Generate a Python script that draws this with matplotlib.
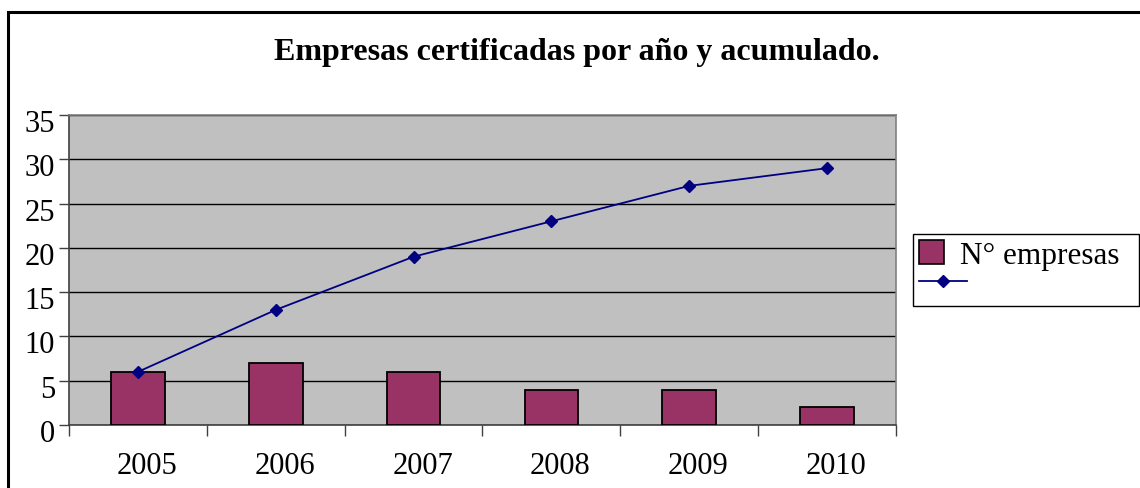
import matplotlib.pyplot as plt
from matplotlib.patches import Rectangle, Patch
from matplotlib.lines import Line2D
from matplotlib.legend_handler import HandlerLine2D
from matplotlib.transforms import ScaledTranslation
import numpy as np

# --------------------------------------------------------------------
# Data
# --------------------------------------------------------------------
years = ['2005', '2006', '2007', '2008', '2009', '2010']
empresas = [6, 7, 6, 4, 4, 2]
acumulado = [6, 13, 19, 23, 27, 29]

plt.rcParams['font.family'] = ['Liberation Serif', 'DejaVu Serif']


class LongLineHandler(HandlerLine2D):
    # legend line sample drawn longer than the bar square
    def create_artists(self, legend, orig_handle, xdescent, ydescent,
                       width, height, fontsize, trans):
        return super().create_artists(legend, orig_handle, xdescent, ydescent,
                                      width * 1.9, height, fontsize, trans)


fig = plt.figure(figsize=(11.40, 4.89), dpi=100)

# outer frame of the chart object
fig.patches.append(Rectangle((8/1140, -0.05), 1.2, 1 - 13/489 + 0.05,
                             transform=fig.transFigure, fill=False,
                             edgecolor='black', linewidth=2.2))

ax = fig.add_axes([69/1140, 1 - 426/489, (896 - 69)/1140, (426 - 116)/489])
ax.set_facecolor('#c0c0c0')

x = np.arange(len(years))
ax.bar(x, empresas, width=0.39, color='#993366', edgecolor='black',
       linewidth=1.3, zorder=3)
ax.plot(x, acumulado, '-', color='#000080', linewidth=1.3, marker='D',
        markersize=6, zorder=4)

# --------------------------------------------------------------------
# Axes
# --------------------------------------------------------------------
ax.set_xlim(-0.5, len(years) - 0.5)
ax.set_ylim(0, 35)
ax.set_yticks(range(0, 36, 5))
ax.yaxis.grid(True, color='black', linewidth=1.0, zorder=1)
ax.set_axisbelow(True)
ax.tick_params(axis='y', direction='out', length=7, width=1, labelsize=22,
               pad=3, color='#404040')
ax.set_xticks(np.arange(-0.5, len(years), 1.0))
ax.set_xticklabels([])
ax.set_xticks(x, minor=True)
ax.set_xticklabels(years, minor=True, fontsize=22)
ax.tick_params(axis='x', which='major', direction='out', length=8, width=1,
               color='#404040')
ax.tick_params(axis='x', which='minor', length=0, pad=19)

# small label offsets as in the original rendering
for lab in ax.get_yticklabels():
    lab.set_transform(lab.get_transform() + ScaledTranslation(0, -5/100, fig.dpi_scale_trans))
for lab in ax.get_xticklabels(minor=True):
    lab.set_transform(lab.get_transform() + ScaledTranslation(9/100, 0, fig.dpi_scale_trans))

for s in ['top', 'right']:
    ax.spines[s].set_color('#808080')
    ax.spines[s].set_linewidth(1.2)
for s in ['left', 'bottom']:
    ax.spines[s].set_color('#404040')
    ax.spines[s].set_linewidth(1.2)

# --------------------------------------------------------------------
# Title and legend
# --------------------------------------------------------------------
fig.text(577/1140, 1 - 60/489, 'Empresas certificadas por año y acumulado.',
         ha='center', va='baseline', fontsize=23, fontweight='bold')

handles = [Patch(facecolor='#993366', edgecolor='black', linewidth=1.2),
           Line2D([], [], color='#000080', marker='D', markersize=6, linewidth=1.3)]
leg = fig.legend(handles, ['N° empresas', ''], loc='upper left',
                 bbox_to_anchor=(913/1140, 1 - 235/489, (1139 - 913)/1140, 0.0),
                 mode='expand', fontsize=22.5,
                 frameon=True, fancybox=False, edgecolor='black',
                 framealpha=1, borderpad=0.2, labelspacing=0.0,
                 handlelength=0.8, handleheight=0.8, handletextpad=0.5,
                 borderaxespad=0,
                 handler_map={Line2D: LongLineHandler()})
leg.get_frame().set_linewidth(1.0)

plt.savefig('out.png', dpi=100)
plt.close()
